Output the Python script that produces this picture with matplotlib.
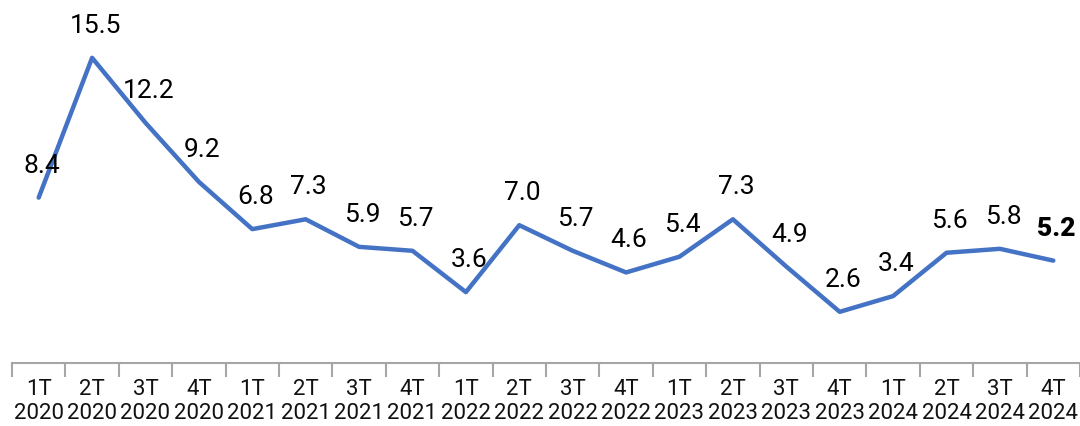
import numpy as np
import matplotlib
matplotlib.use("Agg")
import matplotlib.pyplot as plt

quarters = ["1T", "2T", "3T", "4T"] * 5
years = ["2020"] * 4 + ["2021"] * 4 + ["2022"] * 4 + ["2023"] * 4 + ["2024"] * 4
values = [8.4, 15.5, 12.2, 9.2, 6.8, 7.3, 5.9, 5.7, 3.6, 7.0,
          5.7, 4.6, 5.4, 7.3, 4.9, 2.6, 3.4, 5.6, 5.8, 5.2]

plt.rcParams['font.family'] = ['Roboto', 'DejaVu Sans']

fig = plt.figure(figsize=(10.8, 4.27), dpi=100)
ax = fig.add_axes([0.0111, 0.1475, 0.9889, 0.83])

x = np.arange(len(values))
ax.plot(x, values, color='#4472C4', linewidth=3.2, solid_capstyle='round', solid_joinstyle='round')

for i, v in enumerate(values):
    bold = i == len(values) - 1
    ax.annotate(f"{v:.1f}", (i, v), xytext=(3, 33), textcoords='offset pixels',
                ha='center', va='center', fontsize=19, color='#000000',
                fontweight='heavy' if bold else 'normal')

ax.set_xlim(-0.5, len(values) - 0.5)
ax.set_ylim(0, 18)

ax.set_xticks(x)
ax.set_xticklabels([f"{q}\n{y}" for q, y in zip(quarters, years)], fontsize=16, color='#111111',
                   linespacing=1.15)
ax.tick_params(axis='x', which='major', length=0, pad=11)
ax.set_xticks(np.arange(-0.5, len(values), 1), minor=True)
ax.tick_params(axis='x', which='minor', length=10, width=1.5, color='#a6a6a6')
ax.set_yticks([])

for s in ['top', 'right', 'left']:
    ax.spines[s].set_visible(False)
ax.spines['bottom'].set_color('#a6a6a6')
ax.spines['bottom'].set_linewidth(1.5)

fig.savefig("out.png", dpi=100)
